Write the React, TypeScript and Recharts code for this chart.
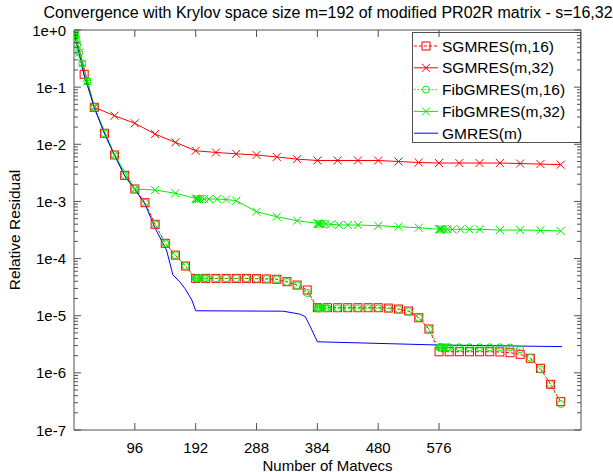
import React from "react"
import { LineChart, Line, XAxis, YAxis, ReferenceArea, Legend } from "recharts"

const TITLE = "Convergence with Krylov space size m=192 of modified PR02R matrix - s=16,32"
const X_LABEL = "Number of Matvecs"
const Y_LABEL = "Relative Residual"

const X_TICKS = [96, 192, 288, 384, 480, 576]
const Y_MAJOR = [1e-7, 1e-6, 1e-5, 1e-4, 1e-3, 1e-2, 1e-1, 1]
const Y_MAJOR_LABELS = ["1e-7", "1e-6", "1e-5", "1e-4", "1e-3", "1e-2", "1e-1", "1e+0"]

// SGMRES(m,16) - squares every 16 matvecs
const sg16X = [
  0, 16, 32, 48, 64, 80, 96, 112, 128, 144, 160, 176, 192, 208, 224, 240, 256, 272, 288, 304, 320, 336, 352, 368,
  384, 400, 416, 432, 448, 464, 480, 496, 512, 528, 544, 560, 576, 592, 608, 624, 640, 656, 672, 688, 704, 720,
  736, 752, 768,
]
const sg16Y = [
  1, 0.168, 0.0444, 0.0156, 0.0065, 0.00286, 0.00165, 0.00095, 0.000398, 0.000185, 0.000115, 7.4e-5, 4.5e-5,
  4.5e-5, 4.5e-5, 4.5e-5, 4.5e-5, 4.5e-5, 4.45e-5, 4.4e-5, 4.34e-5, 3.94e-5, 3.44e-5, 2.82e-5, 1.38e-5, 1.38e-5,
  1.38e-5, 1.38e-5, 1.38e-5, 1.38e-5, 1.38e-5, 1.36e-5, 1.31e-5, 1.21e-5, 9.2e-6, 5.85e-6, 2.34e-6, 2.34e-6,
  2.34e-6, 2.34e-6, 2.34e-6, 2.34e-6, 2.32e-6, 2.25e-6, 2.11e-6, 1.8e-6, 1.2e-6, 6.3e-7, 3.13e-7,
]

// SGMRES(m,32) - crosses every 32 matvecs
const sg32X = [
  0, 32, 64, 96, 128, 160, 192, 224, 256, 288, 320, 352, 384, 416, 448, 480, 512, 544, 576, 608, 640, 672, 704,
  736, 768,
]
const sg32Y = [
  1, 0.0444, 0.0316, 0.0233, 0.0151, 0.0108, 0.0077, 0.0072, 0.0068, 0.0065, 0.006, 0.0055, 0.0052, 0.0052,
  0.0052, 0.0052, 0.005, 0.0048, 0.0047, 0.0047, 0.0047, 0.0047, 0.0046, 0.0045, 0.0044,
]

// FibGMRES(m,16) - circles, clustered after each restart
const fib16X = [
  0, 1, 2, 3, 5, 8, 13, 21, 32, 48, 64, 80, 96, 112, 128, 144, 160, 176, 192, 193, 194, 195, 197, 200, 205, 208,
  224, 240, 256, 272, 288, 304, 320, 336, 352, 368, 384, 385, 386, 387, 389, 392, 397, 400, 416, 432, 448, 464,
  480, 496, 512, 528, 544, 560, 576, 577, 578, 579, 581, 584, 589, 592, 608, 624, 640, 656, 672, 688, 704, 720,
  736, 752, 768,
]
const fib16Y = [
  1, 0.9, 0.8, 0.67, 0.55, 0.4, 0.26, 0.125, 0.0444, 0.0156, 0.0065, 0.00286, 0.00165, 0.00095, 0.000398,
  0.000185, 0.000115, 7.4e-5, 4.5e-5, 4.5e-5, 4.5e-5, 4.5e-5, 4.5e-5, 4.5e-5, 4.5e-5, 4.5e-5, 4.5e-5, 4.5e-5,
  4.5e-5, 4.5e-5, 4.45e-5, 4.4e-5, 4.34e-5, 3.9e-5, 3.4e-5, 2.5e-5, 1.35e-5, 1.35e-5, 1.35e-5, 1.35e-5, 1.35e-5,
  1.35e-5, 1.35e-5, 1.35e-5, 1.35e-5, 1.35e-5, 1.35e-5, 1.35e-5, 1.35e-5, 1.34e-5, 1.3e-5, 1.2e-5, 9.2e-6,
  5.85e-6, 2.8e-6, 2.8e-6, 2.8e-6, 2.8e-6, 2.8e-6, 2.8e-6, 2.8e-6, 2.8e-6, 2.8e-6, 2.8e-6, 2.8e-6, 2.8e-6,
  2.8e-6, 2.78e-6, 2.58e-6, 1.84e-6, 1.15e-6, 6.3e-7, 2.85e-7,
]

// FibGMRES(m,32) - crosses, clustered after each restart
const fib32X = [
  0, 1, 2, 3, 5, 8, 13, 21, 32, 64, 96, 128, 160, 192, 193, 194, 195, 197, 200, 205, 213, 226, 240, 256, 288,
  320, 352, 384, 385, 386, 387, 389, 392, 397, 405, 418, 432, 448, 480, 512, 544, 576, 577, 578, 579, 581, 584,
  589, 597, 610, 624, 640, 672, 704, 736, 768,
]
const fib32Y = [
  1, 0.9, 0.8, 0.67, 0.55, 0.4, 0.26, 0.125, 0.0444, 0.0065, 0.00165, 0.00158, 0.00139, 0.00113, 0.0011, 0.0011,
  0.0011, 0.0011, 0.0011, 0.0011, 0.0011, 0.0011, 0.00108, 0.00103, 0.00066, 0.00054, 0.00046, 0.000414,
  0.000405, 0.000405, 0.000405, 0.000405, 0.000405, 0.000405, 0.000398, 0.000387, 0.000387, 0.000387, 0.000376,
  0.000361, 0.000347, 0.000325, 0.000325, 0.000325, 0.000325, 0.000325, 0.000325, 0.000325, 0.000325, 0.000325,
  0.000325, 0.000325, 0.000316, 0.000316, 0.000312, 0.000304,
]

// GMRES(m) - plain line
const gmresX = [0, 8, 16, 24, 32, 48, 64, 80, 96, 112, 128, 146, 156, 167, 175, 186, 192, 330, 356, 365, 373, 384, 576, 770]
const gmresY = [
  1, 0.38, 0.16, 0.085, 0.044, 0.0155, 0.0064, 0.0028, 0.00162, 0.0009, 0.00034, 0.000141, 5.2e-5, 3.9e-5, 3e-5,
  1.88e-5, 1.22e-5, 1.2e-5, 1.07e-5, 9.6e-6, 6.4e-6, 3.5e-6, 3.07e-6, 2.88e-6,
]

const W = 613
const H = 472
const PLOT_TOP = 30
const PLOT_RIGHT = 581
const FONT = '"Liberation Sans", Arial, Helvetica, sans-serif'
const FRAME = "#505050"
const RED = "#ff0000"
const GREEN = "#00ee00"
const BLUE = "#0000ff"

const zip = (xs: number[], ys: number[]) => xs.map((x, i) => ({ x, y: ys[i] }))

// log minor ticks 2..9 in each decade plus the majors
const Y_TICKS: number[] = []
for (let e = -7; e <= 0; e++) {
  for (let m = 1; m <= 9; m++) {
    if (e === 0 && m > 1) break
    Y_TICKS.push(m * Math.pow(10, e))
  }
}

function square(color: string) {
  return (p: any) =>
    p.cx == null ? <g key={p.key} /> : (
      <rect key={p.key} x={p.cx - 4} y={p.cy - 4} width={8} height={8} fill="none" stroke={color} strokeWidth={1} />
    )
}
function circle(color: string) {
  return (p: any) =>
    p.cx == null ? <g key={p.key} /> : <circle key={p.key} cx={p.cx} cy={p.cy} r={3.5} fill="none" stroke={color} strokeWidth={1} />
}
function cross(color: string) {
  return (p: any) =>
    p.cx == null ? <g key={p.key} /> : (
      <path
        key={p.key}
        d={`M${p.cx - 4},${p.cy - 4}L${p.cx + 4},${p.cy + 4}M${p.cx - 4},${p.cy + 4}L${p.cx + 4},${p.cy - 4}`}
        stroke={color}
        strokeWidth={1}
      />
    )
}

function XTick({ x, y, payload }: any) {
  return (
    <g>
      <line x1={x} x2={x} y1={y} y2={y - 7} stroke={FRAME} />
      <line x1={x} x2={x} y1={PLOT_TOP} y2={PLOT_TOP + 7} stroke={FRAME} />
      <text x={x} y={y + 17} textAnchor="middle" dominantBaseline="central" fontSize={15} fill="#000">
        {payload.value}
      </text>
    </g>
  )
}

function YTick({ x, y, payload }: any) {
  const v = payload.value
  const idx = Y_MAJOR.findIndex((m) => Math.abs(v / m - 1) < 1e-6)
  const len = idx >= 0 ? 7 : 4
  return (
    <g>
      <line x1={x} x2={x + len} y1={y} y2={y} stroke={FRAME} />
      <line x1={PLOT_RIGHT} x2={PLOT_RIGHT - len} y1={y} y2={y} stroke={FRAME} />
      {idx >= 0 && (
        <text x={x - 8} y={y} textAnchor="end" dominantBaseline="central" fontSize={15} fill="#000">
          {Y_MAJOR_LABELS[idx]}
        </text>
      )}
    </g>
  )
}

const LEGEND_ITEMS = [
  { name: "SGMRES(m,16)", color: RED, dash: "3 2", marker: square(RED) },
  { name: "SGMRES(m,32)", color: RED, dash: undefined, marker: cross(RED) },
  { name: "FibGMRES(m,16)", color: GREEN, dash: "1.5 2", marker: circle(GREEN) },
  { name: "FibGMRES(m,32)", color: GREEN, dash: undefined, marker: cross(GREEN) },
  { name: "GMRES(m)", color: BLUE, dash: undefined, marker: null },
]

function LegendBox() {
  return (
    <svg width={169} height={111} style={{ display: "block" }}>
      <rect x={0.5} y={0.5} width={168} height={110} fill="none" stroke={FRAME} />
      {LEGEND_ITEMS.map((it, i) => {
        const cy = 14 + i * 21.8
        return (
          <g key={it.name}>
            <line x1={2} x2={26} y1={cy} y2={cy} stroke={it.color} strokeDasharray={it.dash} />
            {it.marker && it.marker({ cx: 14, cy, key: "m" + i })}
            <text x={30} y={cy} dominantBaseline="central" fontSize={15.5} fontFamily={FONT} fill="#000">
              {it.name}
            </text>
          </g>
        )
      })}
    </svg>
  )
}

export default function App() {
  return (
    <div style={{ position: "absolute", left: 0, top: 0, width: W, height: H, overflow: "hidden", background: "#fff", fontFamily: FONT }}>
      <div
        style={{
          position: "absolute",
          left: 28,
          width: 600,
          top: 4,
          textAlign: "center",
          fontSize: 16,
          lineHeight: "18px",
          whiteSpace: "nowrap",
          color: "#000",
        }}
      >
        {TITLE}
      </div>
      <LineChart width={W} height={H} margin={{ top: PLOT_TOP, right: W - PLOT_RIGHT, left: 0, bottom: 0 }} style={{ fontFamily: FONT }}>
        <XAxis
          dataKey="x"
          type="number"
          domain={[0, 800]}
          allowDataOverflow
          ticks={X_TICKS}
          interval={0}
          tick={<XTick />}
          tickLine={false}
          axisLine={false}
          tickSize={0}
          tickMargin={0}
          height={42}
          label={{
            value: X_LABEL,
            content: ({ viewBox }: any) => (
              <text x={viewBox.x + viewBox.width / 2} y={465} textAnchor="middle" dominantBaseline="central" fontSize={15} fill="#000">
                {X_LABEL}
              </text>
            ),
          }}
        />
        <YAxis
          dataKey="y"
          type="number"
          scale="log"
          domain={[1e-7, 1]}
          allowDataOverflow
          ticks={Y_TICKS}
          interval={0}
          tick={<YTick />}
          tickLine={false}
          axisLine={false}
          tickSize={0}
          tickMargin={0}
          width={74}
          label={{
            value: Y_LABEL,
            content: ({ viewBox }: any) => {
              const cy = viewBox.y + viewBox.height / 2
              return (
                <text x={14} y={cy} transform={`rotate(-90, 14, ${cy})`} textAnchor="middle" dominantBaseline="central" fontSize={15.5} fill="#000">
                  {Y_LABEL}
                </text>
              )
            },
          }}
        />
        <Line data={zip(sg16X, sg16Y)} dataKey="y" type="linear" stroke={RED} strokeWidth={1} strokeDasharray="3 2" dot={square(RED)} activeDot={false} isAnimationActive={false} />
        <Line data={zip(sg32X, sg32Y)} dataKey="y" type="linear" stroke={RED} strokeWidth={1} dot={cross(RED)} activeDot={false} isAnimationActive={false} />
        <Line data={zip(fib16X, fib16Y)} dataKey="y" type="linear" stroke={GREEN} strokeWidth={1} strokeDasharray="1.5 2" dot={circle(GREEN)} activeDot={false} isAnimationActive={false} />
        <Line data={zip(fib32X, fib32Y)} dataKey="y" type="linear" stroke={GREEN} strokeWidth={1} dot={cross(GREEN)} activeDot={false} isAnimationActive={false} />
        <Line data={zip(gmresX, gmresY)} dataKey="y" type="linear" stroke={BLUE} strokeWidth={1} dot={false} activeDot={false} isAnimationActive={false} />
        <ReferenceArea x1={0} x2={800} y1={1e-7} y2={1} fill="none" stroke={FRAME} strokeWidth={1} ifOverflow="visible" />
        <Legend
          layout="vertical"
          align="center"
          verticalAlign="middle"
          content={() => <LegendBox />}
          wrapperStyle={{ position: "absolute", left: 412, top: 32, width: 169, height: 111 }}
        />
      </LineChart>
    </div>
  )
}
